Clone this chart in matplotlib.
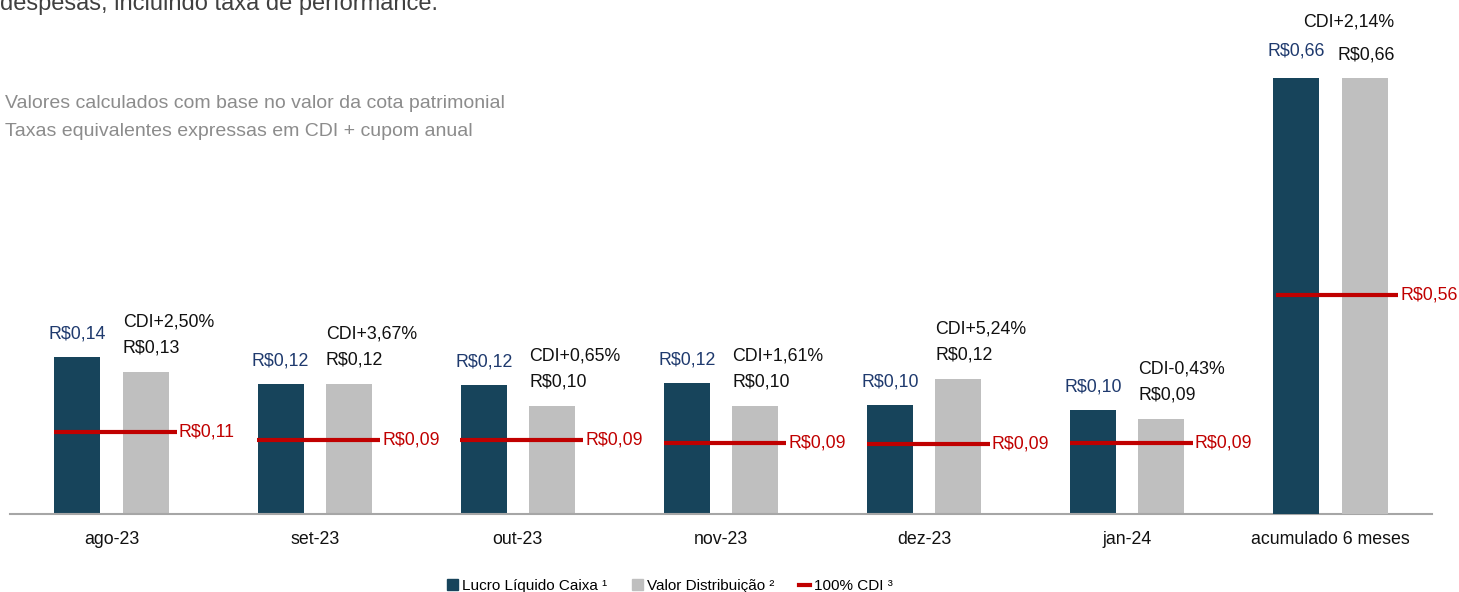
import matplotlib
matplotlib.use('Agg')
import matplotlib.pyplot as plt
from matplotlib import font_manager
from matplotlib.patches import Patch
from matplotlib.lines import Line2D

plt.rcParams['font.family'] = ['Liberation Sans', 'DejaVu Sans']

# ---------------- data ----------------
categories = ['ago-23', 'set-23', 'out-23', 'nov-23', 'dez-23', 'jan-24', 'acumulado 6 meses']
lucro_mensal = [0.144, 0.119, 0.118, 0.120, 0.100, 0.095]
valor_mensal = [0.130, 0.119, 0.099, 0.099, 0.124, 0.087]
cdi_mensal = [0.106, 0.094, 0.095, 0.090, 0.089, 0.091]
lucro_acum = 0.66
valor_acum = 0.66
cdi_acum = 0.565

lucro_labels = ['R$0,14', 'R$0,12', 'R$0,12', 'R$0,12', 'R$0,10', 'R$0,10', 'R$0,66']
valor_labels = ['R$0,13', 'R$0,12', 'R$0,10', 'R$0,10', 'R$0,12', 'R$0,09', 'R$0,66']
cdi_labels = ['R$0,11', 'R$0,09', 'R$0,09', 'R$0,09', 'R$0,09', 'R$0,09', 'R$0,56']
spread_labels = ['CDI+2,50%', 'CDI+3,67%', 'CDI+0,65%', 'CDI+1,61%', 'CDI+5,24%', 'CDI-0,43%', 'CDI+2,14%']
legend_labels = ['Lucro Líquido Caixa ¹', 'Valor Distribuição ²', '100% CDI ³']

# ---------------- style ----------------
C_DARK = '#17445B'
C_GREY = '#BFBFBF'
C_RED = '#C00000'
C_NAVY = '#1F3A6E'
C_TXT = '#111111'

_names = {f.name for f in font_manager.fontManager.ttflist}
if 'Liberation Sans Narrow' in _names:
    LBL = dict(family=['Liberation Sans Narrow', 'DejaVu Sans'], fontsize=14.8)
    LEG = dict(family=['Liberation Sans Narrow', 'DejaVu Sans'], size=12.8)
else:
    LBL = dict(family=['Liberation Sans', 'DejaVu Sans'], fontsize=12.8)
    LEG = dict(family=['Liberation Sans', 'DejaVu Sans'], size=11)

W, H = 1459, 592
fig = plt.figure(figsize=(W / 100, H / 100), dpi=100)
left_px, right_px, base_px, top_px = 10, 1432, 514, 0
ax = fig.add_axes([left_px / W, (H - base_px) / H, (right_px - left_px) / W, (base_px - top_px) / H])
ax_acc = ax.twinx()
ax_cdi = ax.twinx()
ax_cdia = ax.twinx()

axh = base_px - top_px
ax.set_ylim(0, axh / 1090)
ax_acc.set_ylim(0, axh / 660.6)
ax_cdi.set_ylim(-4 / 740, (axh - 4) / 740)
ax_cdia.set_ylim(0, axh / 387)

for a in (ax, ax_acc, ax_cdi, ax_cdia):
    a.set_xlim(-0.5, 6.5)
    for s in a.spines.values():
        s.set_visible(False)
    a.set_yticks([])
ax.spines['bottom'].set_visible(True)
ax.spines['bottom'].set_color('#A6A6A6')
ax.spines['bottom'].set_linewidth(1.5)

off, bw = 0.168, 0.226
n = len(lucro_mensal)
xm = list(range(n))
xa = n

ax.bar([x - off for x in xm], lucro_mensal, width=bw, color=C_DARK)
ax.bar([x + off for x in xm], valor_mensal, width=bw, color=C_GREY)
ax_acc.bar([xa - off], [lucro_acum], width=bw, color=C_DARK)
ax_acc.bar([xa + off], [valor_acum], width=bw, color=C_GREY)

pt = 0.72  # px -> points
for i in xm:
    ax_cdi.plot([i - 0.283, i + 0.322], [cdi_mensal[i]] * 2, color=C_RED, lw=3.0, solid_capstyle='butt')
    ax_cdi.annotate(cdi_labels[i], xy=(i + 0.322, cdi_mensal[i]), xytext=(2 * pt, 0),
                    textcoords='offset points', ha='left', va='center', color=C_RED, **LBL)
    ax.annotate(lucro_labels[i], xy=(i - off, lucro_mensal[i]), xytext=(0, 23 * pt),
                textcoords='offset points', ha='center', va='center', color=C_NAVY, **LBL)
    ax.annotate(valor_labels[i], xy=(i + off - bw / 2, valor_mensal[i]), xytext=(0, 24 * pt),
                textcoords='offset points', ha='left', va='center', color=C_TXT, **LBL)
    ax.annotate(spread_labels[i], xy=(i + off - bw / 2, valor_mensal[i]), xytext=(0, 50 * pt),
                textcoords='offset points', ha='left', va='center', color=C_TXT, **LBL)

ax_cdia.plot([xa - 0.27, xa + 0.335], [cdi_acum] * 2, color=C_RED, lw=3.0, solid_capstyle='butt')
ax_cdia.annotate(cdi_labels[n], xy=(xa + 0.335, cdi_acum), xytext=(2 * pt, 0),
                 textcoords='offset points', ha='left', va='center', color=C_RED, **LBL)
ax_acc.annotate(lucro_labels[n], xy=(xa - off, lucro_acum), xytext=(0, 27 * pt),
                textcoords='offset points', ha='center', va='center', color=C_NAVY, **LBL)
ax_acc.annotate(valor_labels[n], xy=(xa + off + bw / 2, valor_acum), xytext=(7 * pt, 23 * pt),
                textcoords='offset points', ha='right', va='center', color=C_TXT, **LBL)
ax_acc.annotate(spread_labels[n], xy=(xa + off + bw / 2, valor_acum), xytext=(7 * pt, 56 * pt),
                textcoords='offset points', ha='right', va='center', color=C_TXT, **LBL)

ax.set_xticks(range(len(categories)))
ax.set_xticklabels(categories, color=C_TXT, **LBL)
ax.tick_params(axis='x', length=0, pad=12)
for a in (ax_acc, ax_cdi, ax_cdia):
    a.tick_params(axis='x', length=0, labelbottom=False)

# texts
fig.text(0 / W, 1 - 10 / H, 'despesas, incluindo taxa de performance.', fontsize=17,
         color='#404040', ha='left', va='baseline')
fig.text(5 / W, 1 - 103 / H, 'Valores calculados com base no valor da cota patrimonial', fontsize=14,
         color='#8C8C8C', ha='left', va='center')
fig.text(5 / W, 1 - 131 / H, 'Taxas equivalentes expressas em CDI + cupom anual', fontsize=14,
         color='#8C8C8C', ha='left', va='center')

handles = [Patch(color=C_DARK), Patch(color=C_GREY), Line2D([0], [0], color=C_RED, lw=3)]
fig.legend(handles, legend_labels, loc='center', bbox_to_anchor=(670 / W, 1 - 586 / H), ncol=3,
           frameon=False, prop=LEG, handlelength=0.7, handleheight=0.7, handletextpad=0.3,
           columnspacing=1.6, borderpad=0, borderaxespad=0)

fig.savefig('out.png', dpi=100)
